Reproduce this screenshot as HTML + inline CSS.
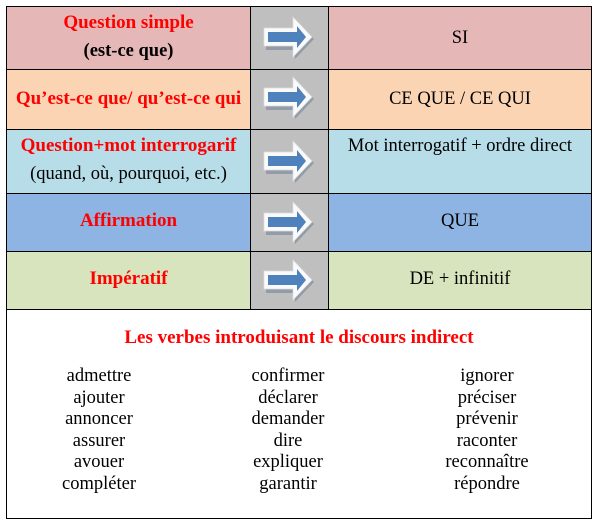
<!DOCTYPE html>
<html><head><meta charset="utf-8"><style>
body{margin:0;width:601px;height:528px;background:#fff;font-family:"Liberation Serif",serif;font-size:18.5px;position:relative;overflow:hidden}
.c{position:absolute;box-sizing:border-box;border:1.5px solid #000}
.t{position:absolute;text-align:center;white-space:nowrap;line-height:20px}
.r{color:#f00;font-weight:bold;font-size:19px}
svg{position:absolute}
</style></head><body>
<div class="c" style="left:6px;top:6px;width:245px;height:64px;background:#e5b8b7"></div>
<div class="c" style="left:250px;top:6px;width:79px;height:64px;background:#bfbfbf"></div>
<div class="c" style="left:328px;top:6px;width:264px;height:64px;background:#e5b8b7"></div>

<div class="c" style="left:6px;top:69px;width:245px;height:61px;background:#fbd4b4"></div>
<div class="c" style="left:250px;top:69px;width:79px;height:61px;background:#bfbfbf"></div>
<div class="c" style="left:328px;top:69px;width:264px;height:61px;background:#fbd4b4"></div>

<div class="c" style="left:6px;top:129px;width:245px;height:65px;background:#b7dde8"></div>
<div class="c" style="left:250px;top:129px;width:79px;height:65px;background:#bfbfbf"></div>
<div class="c" style="left:328px;top:129px;width:264px;height:65px;background:#b7dde8"></div>

<div class="c" style="left:6px;top:193px;width:245px;height:59px;background:#8eb4e3"></div>
<div class="c" style="left:250px;top:193px;width:79px;height:59px;background:#bfbfbf"></div>
<div class="c" style="left:328px;top:193px;width:264px;height:59px;background:#8eb4e3"></div>

<div class="c" style="left:6px;top:251px;width:245px;height:59px;background:#d7e4bd"></div>
<div class="c" style="left:250px;top:251px;width:79px;height:59px;background:#bfbfbf"></div>
<div class="c" style="left:328px;top:251px;width:264px;height:59px;background:#d7e4bd"></div>

<div class="c" style="left:6px;top:309px;width:586px;height:210px;background:#fff"></div>

<div class="t r" style="left:6px;width:245px;top:13px">Question simple</div>
<div class="t" style="left:6px;width:245px;top:41px;font-weight:bold">(est-ce que)</div>
<div class="t r" style="left:6px;width:245px;top:89px">Qu’est-ce que/ qu’est-ce qui</div>
<div class="t r" style="left:6px;width:245px;top:136px">Question+mot interrogarif</div>
<div class="t" style="left:6px;width:245px;top:164px">(quand, où, pourquoi, etc.)</div>
<div class="t r" style="left:6px;width:245px;top:211px">Affirmation</div>
<div class="t r" style="left:6px;width:245px;top:269px">Impératif</div>

<div class="t" style="left:328px;width:264px;top:28px">SI</div>
<div class="t" style="left:328px;width:264px;top:89px">CE QUE / CE QUI</div>
<div class="t" style="left:328px;width:264px;top:136px">Mot interrogatif + ordre direct</div>
<div class="t" style="left:328px;width:264px;top:211px">QUE</div>
<div class="t" style="left:328px;width:264px;top:269px">DE + infinitif</div>

<svg width="601" height="528" style="left:0;top:0">
<defs><g id="a">
<polygon points="-22,-7 7,-7 7,-18 26,2 7,22 7,13 -22,13" fill="#7f8c9c" opacity=".7"/>
<polygon points="-24,-9 5,-9 5,-20 24,0 5,20 5,9 -24,9" fill="#fafafa" stroke="#ddd" stroke-width="0.7"/>
<polygon points="-20,-5 9,-5 9,-11 18,0 9,11 9,5 -20,5" fill="#4f81bd"/>
</g></defs>
<use href="#a" x="288" y="37"/>
<use href="#a" x="288" y="97"/>
<use href="#a" x="288" y="161"/>
<use href="#a" x="288" y="222"/>
<use href="#a" x="288" y="280"/>
</svg>

<div class="t r" style="left:6px;width:586px;top:328px">Les verbes introduisant le discours indirect</div>
<div class="t" style="left:19px;width:160px;top:366px;line-height:21.5px">admettre<br>ajouter<br>annoncer<br>assurer<br>avouer<br>compléter</div>
<div class="t" style="left:208px;width:160px;top:366px;line-height:21.5px">confirmer<br>déclarer<br>demander<br>dire<br>expliquer<br>garantir</div>
<div class="t" style="left:407px;width:160px;top:366px;line-height:21.5px">ignorer<br>préciser<br>prévenir<br>raconter<br>reconnaître<br>répondre</div>
</body></html>
